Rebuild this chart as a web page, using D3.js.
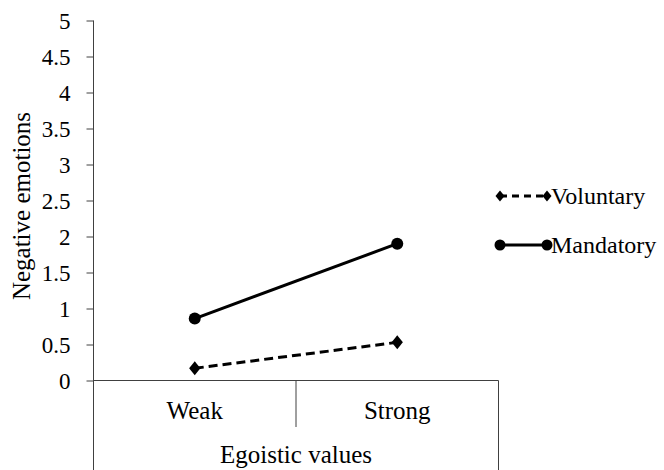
<!DOCTYPE html>
<html><head><meta charset="utf-8">
<script src="https://cdn.jsdelivr.net/npm/d3@7"></script>
<style>body{margin:0;background:#fff}svg{display:block}svg text{font-family:'Liberation Serif','Times New Roman',serif;fill:#000}</style>
</head><body>
<script>
const categories = ["Weak", "Strong"];
const voluntary = [0.17, 0.53];
const mandatory = [0.86, 1.90];
const yTicks = [0, 0.5, 1, 1.5, 2, 2.5, 3, 3.5, 4, 4.5, 5];
const seriesNames = ["Voluntary", "Mandatory"];
const xTitle = "Egoistic values";
const yTitle = "Negative emotions";

(function () {
const W = 664, H = 470;
const svg = d3.select("body").append("svg").attr("width", W).attr("height", H);
const pL = 93.5, pR = 498.5, pT = 20.5, pB = 380.5;
const x = d3.scaleBand().domain(categories).range([pL, pR]);
const y = d3.scaleLinear().domain([0, 5]).range([pB, pT]);
const axisColor = "#404040";
const fs = 23, fsL = 25;

const ya = svg.append("g").attr("transform", `translate(${pL},0)`)
  .call(d3.axisLeft(y).tickValues(yTicks).tickSize(7).tickPadding(16).tickFormat(d => String(d)));
ya.attr("font-family", null);
ya.select(".domain").remove();
ya.selectAll(".tick line").attr("stroke", axisColor);
ya.selectAll(".tick text").attr("font-size", fs).attr("fill", "#000").attr("dy", "0.34em");
svg.append("line").attr("x1", pL).attr("x2", pL).attr("y1", pT).attr("y2", H).attr("stroke", axisColor);

svg.append("line").attr("x1", pL).attr("x2", pR).attr("y1", pB).attr("y2", pB).attr("stroke", axisColor);
svg.append("line").attr("x1", pR).attr("x2", pR).attr("y1", pB).attr("y2", H).attr("stroke", axisColor);
svg.append("line").attr("x1", x("Strong")).attr("x2", x("Strong")).attr("y1", pB).attr("y2", 427).attr("stroke", axisColor);
svg.selectAll(".cat").data(categories).join("text")
  .attr("x", d => x(d) + x.bandwidth() / 2).attr("y", 419)
  .attr("text-anchor", "middle").attr("font-size", fsL).text(d => d);
svg.append("text").attr("x", (pL + pR) / 2).attr("y", 463)
  .attr("text-anchor", "middle").attr("font-size", fsL).text(xTitle);
svg.append("text").attr("transform", `translate(30,206) rotate(-90)`)
  .attr("text-anchor", "middle").attr("font-size", fsL).text(yTitle);

const cx = d => x(d) + x.bandwidth() / 2;
const line = d3.line().x(d => cx(d[0])).y(d => y(d[1]));
const diamond = d3.symbol().type(d3.symbolDiamond).size(70);

function drawSeries(vals, dashed) {
  const pts = categories.map((c, i) => [c, vals[i]]);
  svg.append("path").attr("d", line(pts)).attr("fill", "none").attr("stroke", "#000")
    .attr("stroke-width", 3).attr("stroke-dasharray", dashed ? "9,5" : null);
  pts.forEach(p => {
    if (dashed) svg.append("path").attr("d", diamond()).attr("transform", `translate(${cx(p[0])},${y(p[1])}) scale(1.25,0.9)`).attr("fill", "#000");
    else svg.append("circle").attr("cx", cx(p[0])).attr("cy", y(p[1])).attr("r", 6).attr("fill", "#000");
  });
}
drawSeries(voluntary, true);
drawSeries(mandatory, false);

const legY = [196, 245];
seriesNames.forEach((name, i) => {
  const g = svg.append("g").attr("transform", `translate(0,${legY[i]})`);
  const dashed = i === 0;
  g.append("line").attr("x1", 500).attr("x2", 547).attr("y1", 0).attr("y2", 0)
    .attr("stroke", "#000").attr("stroke-width", 3).attr("stroke-dasharray", dashed ? "7,5" : null);
  [500, 547].forEach(px => {
    if (dashed) g.append("path").attr("d", d3.symbol().type(d3.symbolDiamond).size(45)()).attr("transform", `translate(${px},0) scale(1.25,0.9)`).attr("fill", "#000");
    else g.append("circle").attr("cx", px).attr("cy", 0).attr("r", 5.5).attr("fill", "#000");
  });
  g.append("text").attr("x", 551).attr("y", 0).attr("dy", "0.34em").attr("font-size", 24).text(name);
});
})();
</script>
</body></html>
